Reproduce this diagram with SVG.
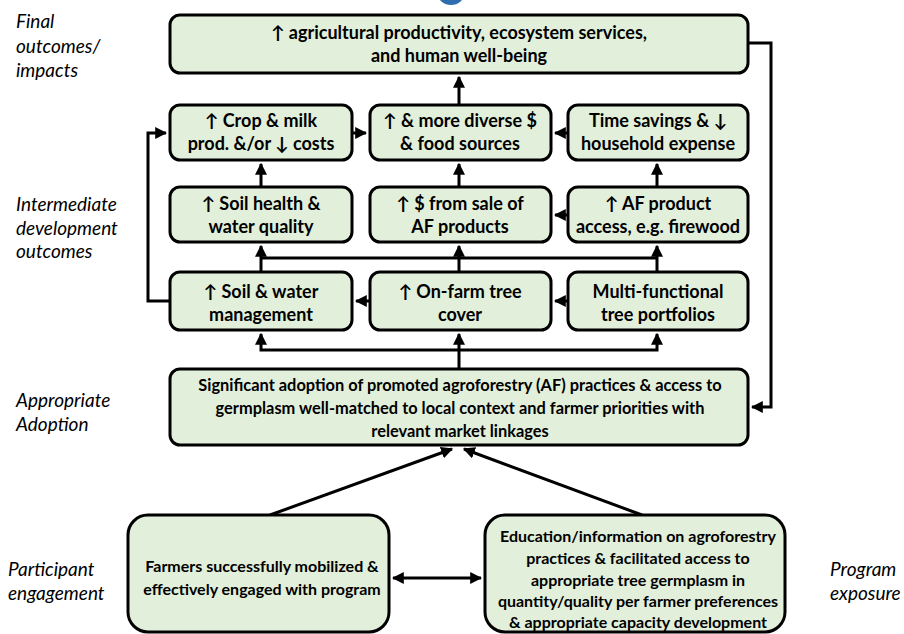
<svg xmlns="http://www.w3.org/2000/svg" width="904" height="634" viewBox="0 0 904 634">
<style>
.box{fill:#e2efda;stroke:#000;stroke-width:3}
.t{font-family:Lato,"Liberation Sans",sans-serif;font-weight:bold;font-size:18px;text-anchor:middle;fill:#000}
.m{font-size:16.4px}
.s{font-size:16px}
.lab{font-family:Lato,"Liberation Sans",sans-serif;font-style:italic;font-size:19px;fill:#000}
.c{fill:none;stroke:#000;stroke-width:3}
</style>
<defs>
<marker id="ah" viewBox="0 0 10 10" refX="9" refY="5" markerWidth="4" markerHeight="4" orient="auto-start-reverse" markerUnits="strokeWidth">
<path d="M0,0 L10,5 L0,10 z" fill="#000"/>
</marker>
</defs>
<rect width="904" height="634" fill="#fff"/>
<ellipse cx="451" cy="-6" rx="13" ry="11" fill="#2e6eb0"/>
<g id="labels">
<text class="lab" x="16" y="28">Final</text>
<text class="lab" x="16" y="53">outcomes/</text>
<text class="lab" x="16" y="77">impacts</text>
<text class="lab" x="16" y="211">Intermediate</text>
<text class="lab" x="16" y="235">development</text>
<text class="lab" x="16" y="258">outcomes</text>
<text class="lab" x="16" y="407">Appropriate</text>
<text class="lab" x="16" y="431">Adoption</text>
<text class="lab" x="8" y="576">Participant</text>
<text class="lab" x="8" y="600">engagement</text>
<text class="lab" x="830" y="576">Program</text>
<text class="lab" x="830" y="600">exposure</text>
</g>
<g id="connectors">
<polyline class="c" points="748,43 771,43 771,407 752,407" marker-end="url(#ah)"/>
<line class="c" x1="459" y1="105" x2="459" y2="77" marker-end="url(#ah)"/>
<line class="c" x1="352" y1="133" x2="366" y2="133" marker-end="url(#ah)"/>
<line class="c" x1="568" y1="133" x2="555" y2="133" marker-end="url(#ah)"/>
<line class="c" x1="261" y1="187" x2="261" y2="164" marker-end="url(#ah)"/>
<line class="c" x1="459" y1="187" x2="459" y2="164" marker-end="url(#ah)"/>
<line class="c" x1="657" y1="187" x2="657" y2="164" marker-end="url(#ah)"/>
<line class="c" x1="568" y1="215" x2="555" y2="215" marker-end="url(#ah)"/>
<line class="c" x1="261" y1="258" x2="657" y2="258"/>
<line class="c" x1="261" y1="272" x2="261" y2="246" marker-end="url(#ah)"/>
<line class="c" x1="459" y1="272" x2="459" y2="246" marker-end="url(#ah)"/>
<line class="c" x1="657" y1="272" x2="657" y2="246" marker-end="url(#ah)"/>
<polyline class="c" points="170,301 148,301 148,133 166,133" marker-end="url(#ah)"/>
<line class="c" x1="370" y1="301" x2="356" y2="301" marker-end="url(#ah)"/>
<line class="c" x1="568" y1="301" x2="555" y2="301" marker-end="url(#ah)"/>
<line class="c" x1="459" y1="369" x2="459" y2="334" marker-end="url(#ah)"/>
<polyline class="c" points="261,334 261,350 657,350 657,334" marker-start="url(#ah)" marker-end="url(#ah)"/>
<line class="c" x1="270" y1="515" x2="452" y2="449" marker-end="url(#ah)"/>
<line class="c" x1="642" y1="515" x2="464" y2="449" marker-end="url(#ah)"/>
<line class="c" x1="393" y1="578" x2="481" y2="578" marker-start="url(#ah)" marker-end="url(#ah)"/>
</g>
<g id="n-final">
<rect class="box" x="170" y="15" width="578" height="58" rx="10"/>
<text class="t" x="459" y="39">↑ agricultural productivity, ecosystem services,</text>
<text class="t" x="459" y="62">and human well-being</text>
</g>
<g id="n-crop">
<rect class="box" x="170" y="105" width="182" height="55" rx="10"/>
<text class="t" x="261" y="127">↑ Crop &amp; milk</text>
<text class="t" x="261" y="150">prod. &amp;/or ↓ costs</text>
</g>
<g id="n-diverse">
<rect class="box" x="370" y="105" width="181" height="55" rx="10"/>
<text class="t" x="460" y="127">↑ &amp; more diverse $</text>
<text class="t" x="460" y="150">&amp; food sources</text>
</g>
<g id="n-time">
<rect class="box" x="568" y="105" width="180" height="55" rx="10"/>
<text class="t" x="658" y="127">Time savings &amp; ↓</text>
<text class="t" x="658" y="150">household expense</text>
</g>
<g id="n-soil">
<rect class="box" x="170" y="187" width="182" height="55" rx="10"/>
<text class="t" x="261" y="210">↑ Soil health &amp;</text>
<text class="t" x="261" y="233">water quality</text>
</g>
<g id="n-sale">
<rect class="box" x="370" y="187" width="181" height="55" rx="10"/>
<text class="t" x="460" y="210">↑ $ from sale of</text>
<text class="t" x="460" y="233">AF products</text>
</g>
<g id="n-access">
<rect class="box" x="568" y="187" width="180" height="55" rx="10"/>
<text class="t" x="658" y="210">↑ AF product</text>
<text class="t" x="658" y="233">access, e.g. firewood</text>
</g>
<g id="n-mgmt">
<rect class="box" x="170" y="272" width="182" height="58" rx="10"/>
<text class="t" x="261" y="298">↑ Soil &amp; water</text>
<text class="t" x="261" y="321">management</text>
</g>
<g id="n-cover">
<rect class="box" x="370" y="272" width="181" height="58" rx="10"/>
<text class="t" x="460" y="298">↑ On-farm tree</text>
<text class="t" x="460" y="321">cover</text>
</g>
<g id="n-portfolio">
<rect class="box" x="568" y="272" width="180" height="58" rx="10"/>
<text class="t" x="658" y="298">Multi-functional</text>
<text class="t" x="658" y="321">tree portfolios</text>
</g>
<g id="n-adoption">
<rect class="box" x="170" y="369" width="578" height="76" rx="10"/>
<text class="t m" x="460" y="391">Significant adoption of promoted agroforestry (AF) practices &amp; access to</text>
<text class="t m" x="460" y="414">germplasm well-matched to local context and farmer priorities with</text>
<text class="t m" x="460" y="437">relevant market linkages</text>
</g>
<g id="n-farmers">
<rect class="box" x="128" y="515" width="261" height="117" rx="20"/>
<text class="t s" x="262" y="572">Farmers successfully mobilized &amp;</text>
<text class="t s" x="262" y="595">effectively engaged with program</text>
</g>
<g id="n-education">
<rect class="box" x="485" y="515" width="300" height="117" rx="20"/>
<text class="t s" x="638" y="542">Education/information on agroforestry</text>
<text class="t s" x="638" y="564">practices &amp; facilitated access to</text>
<text class="t s" x="638" y="586">appropriate tree germplasm in</text>
<text class="t s" x="638" y="607">quantity/quality per farmer preferences</text>
<text class="t s" x="638" y="628">&amp; appropriate capacity development</text>
</g>
</svg>
